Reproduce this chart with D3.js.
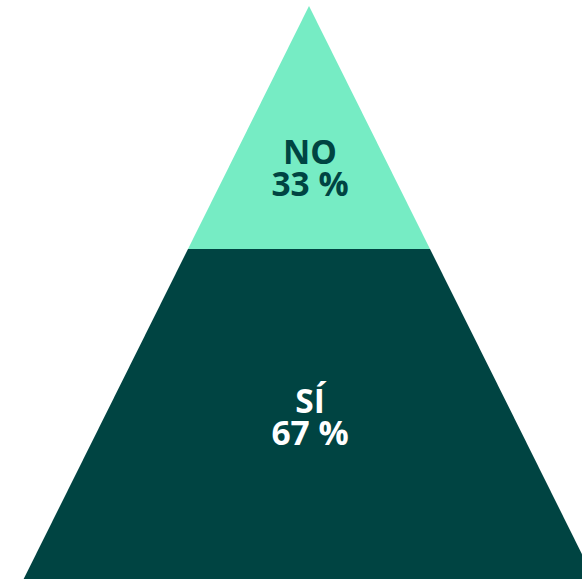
<!DOCTYPE html>
<html>
<head>
<meta charset="utf-8">
<script src="https://cdn.jsdelivr.net/npm/d3@7/dist/d3.min.js"></script>
<style>
html,body{margin:0;padding:0;background:#fff;overflow:hidden;}
svg{display:block;}
</style>
</head>
<body>
<script>
const categories = ["NO", "SÍ"];
const values = [33, 67];
const labels = ["33 %", "67 %"];
const colors = ["#76ecc4", "#004442"];
const textColors = ["#004442", "#ffffff"];

const W = 582, H = 579;
const apexX = 309, apexY = 6;
const slope = 0.498;
const splitY = 249;

const svg = d3.select("body").append("svg").attr("width", W).attr("height", H);

const total = d3.sum(values);
const y = d3.scaleLinear()
  .domain([0, total])
  .range([apexY, apexY + (splitY - apexY) * total / values[0]]);

let cum = 0;
const segs = values.map((v, i) => {
  const s = { cat: categories[i], lab: labels[i], y0: y(cum), y1: y(cum + v), i };
  cum += v;
  return s;
});

const halfW = yy => (yy - apexY) * slope;

svg.selectAll("path.seg").data(segs).join("path")
  .attr("class", "seg")
  .attr("fill", d => colors[d.i])
  .attr("d", d => {
    const a = halfW(d.y0), b = halfW(d.y1);
    return `M${apexX - a},${d.y0}L${apexX + a},${d.y0}L${apexX + b},${d.y1}L${apexX - b},${d.y1}Z`;
  });

// label centers
const centers = segs.map(d => {
  if (d.i === 0) return d.y0 + (d.y1 - d.y0) * 2 / 3;
  return (d.y0 + Math.min(d.y1, H)) / 2 + 3;
});

const t = svg.selectAll("text.lab").data(segs).join("text")
  .attr("class", "lab")
  .attr("text-anchor", "middle")
  .attr("font-family", "'Open Sans', sans-serif")
  .attr("font-weight", 700)
  .attr("font-size", 33.5)
  .attr("fill", d => textColors[d.i]);
t.append("tspan")
  .attr("x", apexX + 1)
  .attr("y", (d, i) => centers[i] - 4)
  .text(d => d.cat);
t.append("tspan")
  .attr("x", apexX + 1)
  .attr("dy", 32)
  .text(d => d.lab);
</script>
</body>
</html>
